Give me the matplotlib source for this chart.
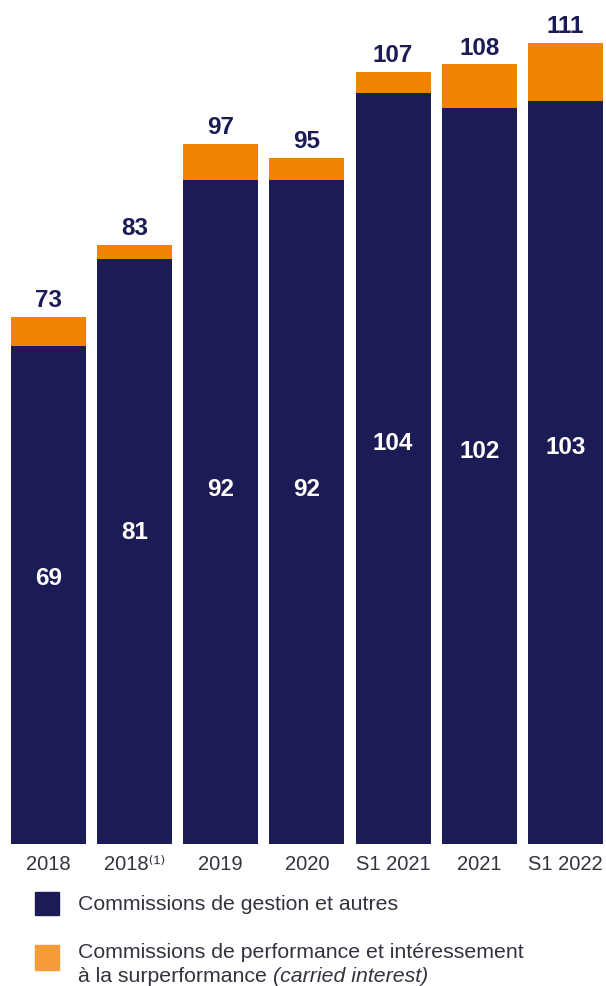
import matplotlib
matplotlib.use("Agg")
import matplotlib.pyplot as plt
from matplotlib.patches import Rectangle

plt.rcParams['font.family'] = ['Liberation Sans', 'DejaVu Sans']

categories = ['2018', '2018⁽¹⁾', '2019', '2020', 'S1 2021', '2021', 'S1 2022']
gestion = [69, 81, 92, 92, 104, 102, 103]
totaux = [73, 83, 97, 95, 107, 108, 111]
performance = [t - g for t, g in zip(totaux, gestion)]

navy = '#1b1c56'
orange = '#f08300'
orange_leg = '#f59b3a'
gris = '#333340'

fig = plt.figure(figsize=(6.06, 9.87), dpi=100)
ax = fig.add_axes([0.016, 0.1439, 0.981, 0.841])

x = range(len(categories))
ax.bar(x, gestion, width=0.87, color=navy)
ax.bar(x, performance, bottom=gestion, width=0.87, color=orange)

for i in x:
    ax.text(i, totaux[i] + 0.8, str(totaux[i]), ha='center', va='bottom',
            fontsize=17.5, fontweight='bold', color=navy)
    ax.text(i, gestion[i] * 0.535, str(gestion[i]), ha='center', va='center',
            fontsize=17.5, fontweight='bold', color='white')

ax.set_xlim(-0.45, 6.45)
ax.set_ylim(0, 115)
ax.set_xticks(list(x))
ax.set_xticklabels(categories, fontsize=14.5, color=gris)
ax.tick_params(axis='x', length=0, pad=7)
ax.set_yticks([])
for s in ax.spines.values():
    s.set_visible(False)

# legende
W, H = 606, 987
def fx(px):
    return px / W
def fy(py):
    return 1 - py / H

fig.patches.append(Rectangle((fx(35), fy(916)), 24 / W, 23 / H, transform=fig.transFigure,
                             color=navy, figure=fig))
fig.patches.append(Rectangle((fx(35), fy(971)), 24 / W, 25 / H, transform=fig.transFigure,
                             color=orange_leg, figure=fig))
fs_leg = 15.3
fig.text(fx(78), fy(905), 'Commissions de gestion et autres', fontsize=fs_leg,
         color=gris, va='center')
fig.text(fx(78), fy(953), 'Commissions de performance et intéressement', fontsize=fs_leg,
         color=gris, va='center')
t = fig.text(fx(78), fy(977), 'à la surperformance ', fontsize=fs_leg,
             color=gris, va='center')
fig.canvas.draw()
bb = t.get_window_extent().transformed(fig.transFigure.inverted())
fig.text(bb.x1, fy(977), '(carried interest)', fontsize=fs_leg, style='italic',
         color=gris, va='center')

fig.savefig('out.png', dpi=100)
